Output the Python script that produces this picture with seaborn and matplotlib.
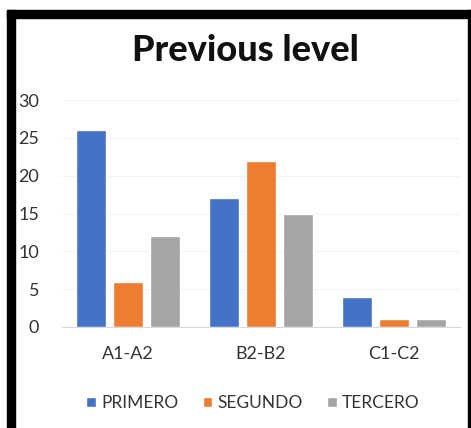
import pandas as pd
import matplotlib
matplotlib.use('Agg')
import matplotlib.pyplot as plt
import seaborn as sns
from matplotlib.patches import Rectangle

levels = ['A1-A2', 'B2-B2', 'C1-C2']
series = ['PRIMERO', 'SEGUNDO', 'TERCERO']
primero = [26, 17, 4]
segundo = [6, 22, 1]
tercero = [12, 15, 1]
yticks = [0, 5, 10, 15, 20, 25, 30]

colors = ['#4472C4', '#ED7D31', '#A5A5A5']

df = pd.DataFrame({
    'level': levels * 3,
    'serie': [s for s in series for _ in levels],
    'value': primero + segundo + tercero,
})

sns.set_style('white')
plt.rcParams['font.family'] = ['Lato', 'DejaVu Sans']

fig = plt.figure(figsize=(4.71, 4.28), dpi=100)
ax = fig.add_axes([0.1306, 0.236, 0.847, 0.530])

sns.barplot(data=df, x='level', y='value', hue='serie', palette=colors,
            width=0.835, gap=0.19, ax=ax, saturation=1)

ax.set_xlim(-0.5, 2.5)
ax.set_ylim(0, 30)
ax.set_yticks(yticks)
ax.set_yticklabels([str(t) for t in yticks])
ax.yaxis.grid(True, color='#F2F2F2', linewidth=0.8)
ax.set_axisbelow(True)
for side in ['top', 'right', 'left']:
    ax.spines[side].set_visible(False)
ax.spines['bottom'].set_color('#D9D9D9')
ax.tick_params(axis='both', length=0, labelsize=13, colors='#333333')
ax.tick_params(axis='x', pad=14)
ax.tick_params(axis='y', pad=16)
ax.set_xlabel('')
ax.set_ylabel('')

handles, labels = ax.get_legend_handles_labels()
ax.legend(handles, labels, loc='center', bbox_to_anchor=(0.537, 0.058),
          bbox_transform=fig.transFigure, ncol=3, frameon=False,
          fontsize=12.5, handlelength=0.55, handleheight=0.55,
          handletextpad=0.3, columnspacing=1.4, labelcolor='#333333')

fig.text(0.522, 0.882, 'Previous level', ha='center', va='center',
         fontsize=26, fontweight='black', color='#111111')

# black frame around the chart
fig.patches.append(Rectangle((0.0149, 0), 0.017, 0.977, transform=fig.transFigure,
                             color='black', zorder=10))
fig.patches.append(Rectangle((0.0149, 0.958), 0.9851, 0.019, transform=fig.transFigure,
                             color='black', zorder=10))
fig.patches.append(Rectangle((0.9936, 0), 0.0064, 0.977, transform=fig.transFigure,
                             color='black', zorder=10))

fig.savefig('out.png', dpi=100)
